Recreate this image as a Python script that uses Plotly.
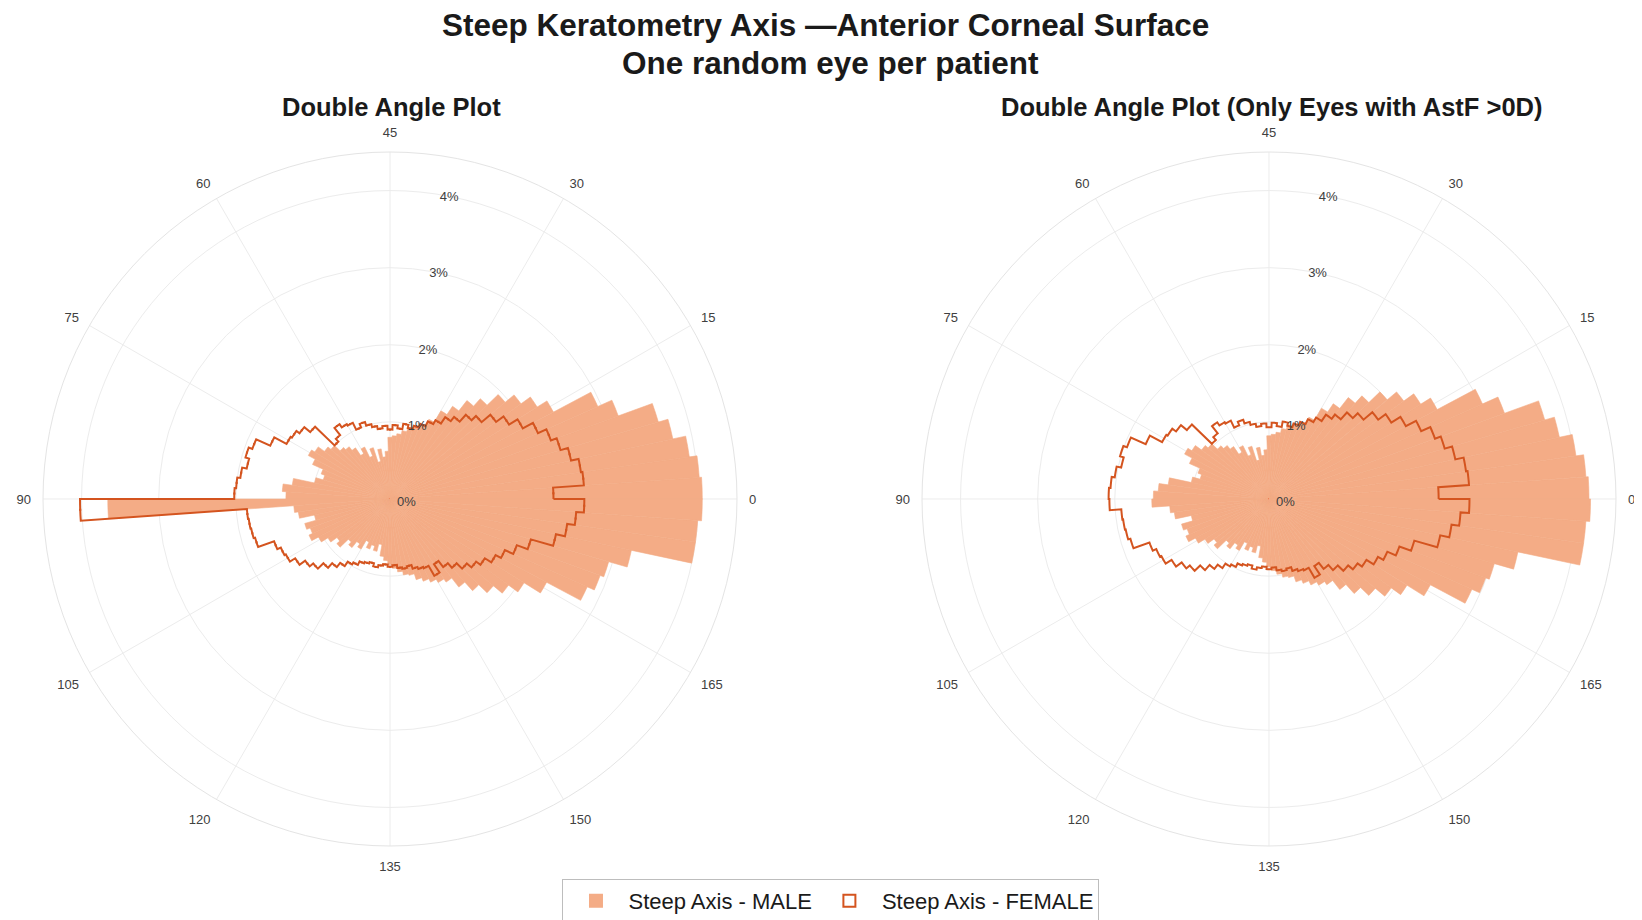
import plotly.graph_objects as go

# ---------------- data ----------------
# steep-axis bins (degrees of axis, 2-degree bins), plotted at double angle
axis_bin_start = list(range(0, 180, 2))
axis_bin_width = 2

angular_tickvals = [0, 30, 60, 90, 120, 150, 180, 210, 240, 270, 300, 330]
angular_ticktext = ['0', '15', '30', '45', '60', '75', '90', '105', '120', '135', '150', '165']
radial_tickvals = [0, 1, 2, 3, 4]
radial_ticktext = ['0%', '1%', '2%', '3%', '4%']

# percentage of eyes per bin -- all eyes
male_all = [
    4.05, 4.02, 3.92, 3.75, 3.62, 3.15, 2.95, 2.40, 2.25, 2.10,
    1.95, 1.75, 1.62, 1.45, 1.32, 1.15, 1.05, 1.00, 0.95, 0.90,
    0.85, 0.82, 0.80, 0.62, 0.55, 0.66, 0.50, 0.70, 0.60, 0.75,
    0.68, 0.80, 0.86, 0.90, 1.00, 1.05, 1.15, 1.20, 1.10, 0.95,
    0.90, 1.00, 1.28, 1.40, 1.35, 3.66, 1.25, 1.20, 1.00, 1.15,
    1.10, 1.15, 1.05, 0.95, 0.85, 0.90, 0.75, 0.80, 0.70, 0.75,
    0.62, 0.70, 0.64, 0.70, 0.60, 0.75, 0.80, 0.85, 0.90, 0.95,
    1.00, 1.02, 1.10, 1.15, 1.20, 1.25, 1.30, 1.45, 1.60, 1.75,
    1.90, 2.05, 2.30, 2.80, 2.90, 2.95, 3.20, 4.00, 4.00, 4.05,
]
female_all = [
    2.12, 2.52, 2.50, 2.40, 2.30, 2.22, 2.10, 1.95, 1.82, 1.70,
    1.55, 1.47, 1.35, 1.28, 1.18, 1.12, 1.05, 1.00, 0.95, 0.99,
    0.92, 0.96, 0.90, 0.95, 0.92, 0.96, 1.00, 1.05, 1.00, 1.10,
    1.12, 1.17, 1.05, 1.00, 1.35, 1.45, 1.50, 1.52, 1.70, 1.90,
    1.95, 1.90, 1.96, 2.00, 2.02, 4.02, 1.86, 1.85, 1.84, 1.82,
    1.60, 1.55, 1.53, 1.45, 1.36, 1.30, 1.20, 1.12, 1.05, 0.98,
    0.95, 0.90, 0.88, 0.86, 0.90, 0.87, 0.85, 0.88, 0.86, 0.90,
    0.92, 0.90, 0.95, 0.98, 1.00, 1.15, 1.02, 1.12, 1.20, 1.30,
    1.38, 1.45, 1.55, 1.63, 1.75, 1.90, 2.20, 2.32, 2.42, 2.52,
]

# percentage of eyes per bin -- only eyes with AstF > 0D
male_astf = [
    4.15, 4.12, 4.02, 3.85, 3.72, 3.25, 3.03, 2.47, 2.32, 2.16,
    2.00, 1.80, 1.67, 1.49, 1.36, 1.18, 1.08, 1.03, 0.98, 0.93,
    0.87, 0.84, 0.82, 0.64, 0.57, 0.68, 0.52, 0.72, 0.62, 0.77,
    0.70, 0.82, 0.88, 0.93, 1.03, 1.08, 1.18, 1.24, 1.13, 0.98,
    0.93, 1.03, 1.32, 1.44, 1.50, 1.52, 1.29, 1.24, 1.03, 1.18,
    1.13, 1.18, 1.08, 0.98, 0.88, 0.93, 0.77, 0.82, 0.72, 0.77,
    0.64, 0.72, 0.66, 0.72, 0.62, 0.77, 0.82, 0.88, 0.93, 0.98,
    1.03, 1.05, 1.13, 1.18, 1.24, 1.29, 1.34, 1.49, 1.65, 1.80,
    1.96, 2.11, 2.37, 2.88, 2.99, 3.04, 3.30, 4.12, 4.12, 4.17,
]
female_astf = [
    2.20, 2.60, 2.58, 2.47, 2.37, 2.29, 2.16, 2.01, 1.87, 1.75,
    1.60, 1.51, 1.39, 1.32, 1.22, 1.15, 1.08, 1.03, 0.98, 1.02,
    0.95, 0.99, 0.93, 0.98, 0.95, 0.99, 1.03, 1.08, 1.03, 1.13,
    1.15, 1.20, 1.08, 1.03, 1.39, 1.49, 1.55, 1.57, 1.75, 1.96,
    2.01, 1.96, 2.02, 2.06, 2.08, 2.07, 1.92, 1.91, 1.90, 1.87,
    1.65, 1.60, 1.58, 1.49, 1.40, 1.34, 1.24, 1.15, 1.08, 1.01,
    0.98, 0.93, 0.91, 0.89, 0.93, 0.90, 0.88, 0.91, 0.89, 0.93,
    0.95, 0.93, 0.98, 1.01, 1.03, 1.18, 1.05, 1.15, 1.24, 1.34,
    1.42, 1.49, 1.60, 1.68, 1.80, 1.96, 2.27, 2.39, 2.49, 2.60,
]

# ---------------- styles ----------------
MALE_COLOR = 'rgb(244,172,134)'
FEMALE_COLOR = '#D4541F'
FONT = 'Liberation Sans, Arial, Helvetica, sans-serif'
TXT = '#1A1A1A'

double_theta_centers = [2 * (a + axis_bin_width / 2) for a in axis_bin_start]
double_width = 2 * axis_bin_width


def stairs(values):
    """Outline of a polar histogram ('stairs' display style)."""
    th, rr = [], []
    steps = 4
    for a, v in zip(axis_bin_start, values):
        t0 = 2 * a
        for k in range(steps + 1):
            th.append(t0 + k * double_width / steps)
            rr.append(v)
    th.append(th[0])
    rr.append(rr[0])
    return rr, th


fig = go.Figure()

panels = [('polar', male_all, female_all, True), ('polar2', male_astf, female_astf, False)]
for sub, mvals, fvals, show in panels:
    fig.add_trace(go.Barpolar(
        r=mvals, theta=double_theta_centers, width=[double_width] * len(mvals),
        marker=dict(color=MALE_COLOR, line=dict(color=MALE_COLOR, width=0.6)),
        name='Steep Axis - MALE', subplot=sub, showlegend=show, legendrank=1,
    ))
    rr, th = stairs(fvals)
    fig.add_trace(go.Scatterpolar(
        r=rr, theta=th, mode='lines',
        line=dict(color=FEMALE_COLOR, width=2),
        name='Steep Axis - FEMALE', subplot=sub, showlegend=False,
    ))
    if show:
        # legend entry for the female outline (open box symbol, markers not visible in the plot)
        fig.add_trace(go.Scatterpolar(
            r=fvals, theta=double_theta_centers, mode='markers',
            marker=dict(symbol='square-open', size=0.1, color=FEMALE_COLOR,
                        line=dict(color=FEMALE_COLOR, width=2)),
            name='Steep Axis - FEMALE', subplot=sub, showlegend=True, legendrank=2,
            hoverinfo='skip',
        ))

GRID = '#ECECEC'
polar_common = dict(
    bgcolor='white',
    radialaxis=dict(
        range=[0, 4.5], tickvals=radial_tickvals, ticktext=radial_ticktext,
        angle=82, tickangle=82, showline=False, ticks='', gridcolor=GRID, gridwidth=1,
        tickfont=dict(family=FONT, size=13, color='#404040'),
    ),
    angularaxis=dict(
        tickvals=angular_tickvals, ticktext=angular_ticktext,
        direction='counterclockwise', rotation=0,
        gridcolor=GRID, linecolor='#E4E4E4', linewidth=1,
        ticks='outside', ticklen=9, tickcolor='rgba(0,0,0,0)',
        tickfont=dict(family=FONT, size=13, color='#404040'),
    ),
)

fig.update_layout(
    width=1642, height=920,
    margin=dict(l=0, r=0, t=0, b=0),
    paper_bgcolor='white',
    font=dict(family=FONT),
    polar=dict(domain=dict(x=[0.02132, 0.44397], y=[0.08913, 0.84348]), **polar_common),
    polar2=dict(domain=dict(x=[0.55664, 0.97929], y=[0.08913, 0.84348]), **polar_common),
    showlegend=True,
    legend=dict(
        orientation='h', x=0.5012, y=0.0293, xanchor='center', yanchor='middle',
        bgcolor='white', bordercolor='#BDBDBD', borderwidth=1,
        font=dict(family=FONT, size=22, color=TXT),
        itemsizing='constant', itemwidth=55, tracegroupgap=0,
    ),
    annotations=[
        dict(text='<b>Steep Keratometry Axis —Anterior Corneal Surface</b>', x=0.498, y=0.9815,
             xref='paper', yref='paper', showarrow=False, xanchor='center', yanchor='middle',
             font=dict(family=FONT, size=31.5, color=TXT)),
        dict(text='<b>One random eye per patient</b>', x=0.5012, y=0.9402,
             xref='paper', yref='paper', showarrow=False, xanchor='center', yanchor='middle',
             font=dict(family=FONT, size=31.5, color=TXT)),
        dict(text='<b>Double Angle Plot</b>', x=0.2336, y=0.8924,
             xref='paper', yref='paper', showarrow=False, xanchor='center', yanchor='middle',
             font=dict(family=FONT, size=25.5, color=TXT)),
        dict(text='<b>Double Angle Plot (Only Eyes with AstF >0D)</b>', x=0.7694, y=0.8924,
             xref='paper', yref='paper', showarrow=False, xanchor='center', yanchor='middle',
             font=dict(family=FONT, size=25.5, color=TXT)),
    ],
)

fig.write_html('out.html')
